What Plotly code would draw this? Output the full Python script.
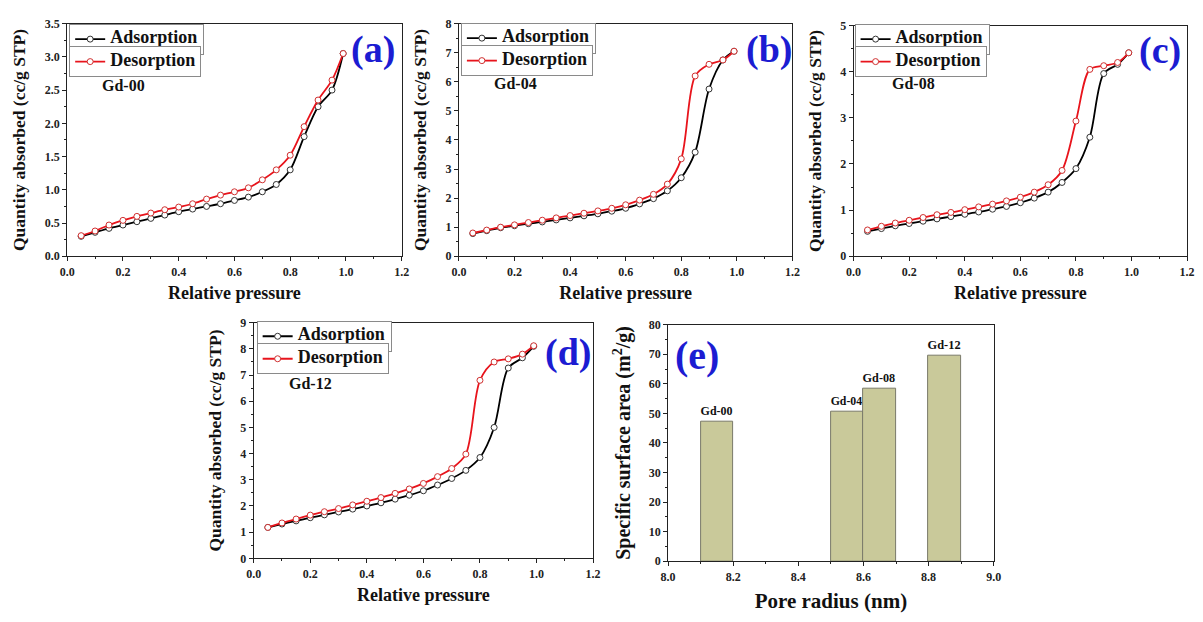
import plotly.graph_objects as go

# Relative pressure (P/P0) sampled for every isotherm
p_rel = [0.05, 0.10, 0.15, 0.20, 0.25, 0.30, 0.35, 0.40, 0.45, 0.50,
         0.55, 0.60, 0.65, 0.70, 0.75, 0.80, 0.85, 0.90, 0.95, 0.99]

# Gd-00
gd00_ads = [0.30, 0.36, 0.42, 0.47, 0.52, 0.57, 0.62, 0.67, 0.71, 0.75,
            0.79, 0.84, 0.89, 0.97, 1.08, 1.30, 1.80, 2.25, 2.50, 3.05]
gd00_des = [0.31, 0.38, 0.47, 0.54, 0.60, 0.65, 0.70, 0.74, 0.79, 0.86,
            0.92, 0.97, 1.03, 1.15, 1.30, 1.52, 1.95, 2.35, 2.65, 3.05]
# Gd-04
gd04_ads = [0.78, 0.88, 0.98, 1.05, 1.12, 1.18, 1.25, 1.32, 1.39, 1.46,
            1.55, 1.65, 1.80, 1.98, 2.25, 2.70, 3.58, 5.75, 6.75, 7.05]
gd04_des = [0.80, 0.90, 1.00, 1.08, 1.16, 1.24, 1.32, 1.40, 1.48, 1.56,
            1.65, 1.77, 1.93, 2.13, 2.48, 3.35, 6.20, 6.60, 6.75, 7.05]
# Gd-08
gd08_ads = [0.54, 0.60, 0.66, 0.71, 0.76, 0.81, 0.86, 0.91, 0.96, 1.02,
            1.08, 1.16, 1.26, 1.39, 1.60, 1.90, 2.58, 3.96, 4.16, 4.41]
gd08_des = [0.57, 0.65, 0.72, 0.78, 0.84, 0.90, 0.95, 1.01, 1.07, 1.13,
            1.20, 1.28, 1.39, 1.55, 1.86, 2.93, 4.05, 4.13, 4.20, 4.41]
# Gd-12
gd12_ads = [1.18, 1.31, 1.43, 1.55, 1.66, 1.77, 1.88, 2.00, 2.12, 2.26,
            2.41, 2.58, 2.80, 3.05, 3.36, 3.85, 5.00, 7.27, 7.66, 8.10]
gd12_des = [1.18, 1.35, 1.50, 1.65, 1.78, 1.90, 2.04, 2.18, 2.32, 2.48,
            2.65, 2.86, 3.12, 3.43, 3.98, 6.80, 7.50, 7.62, 7.80, 8.12]

# BET surface area vs. mean pore radius
samples = ["Gd-00", "Gd-04", "Gd-08", "Gd-12"]
pore_radius = [8.15, 8.55, 8.65, 8.85]
surface_area = [47.2, 50.6, 58.4, 69.6]

SERIF = "Liberation Serif"
BLUE = "#1c1cd2"

fig = go.Figure()

W, H = 1203, 622


def px_x(v):
    return v / W


def px_y(v):
    return 1 - v / H


def big(txt, size=18):
    # legend rows are sized from the legend font; the visible label is set larger
    return f'<span style="font-size:{size}px">{txt}</span>'


panels = [
    ("", (60, 399), (17, 255), 3.5, 0.5, gd00_ads, gd00_des, "Gd-00", "(a)",
     (370, 43), (62, 17), (93, 80)),
    ("2", (457, 795), (17, 255), 8, 1, gd04_ads, gd04_des, "Gd-04", "(b)",
     (771, 43), (459, 16), (491, 78)),
    ("3", (857, 1195), (19, 255), 5, 1, gd08_ads, gd08_des, "Gd-08", "(c)",
     (1168, 45), (858, 17), (894, 78)),
    ("4", (249, 593), (323, 564), 9, 1, gd12_ads, gd12_des, "Gd-12", "(d)",
     (568, 353), (252, 321), (283, 385)),
]

axis_common = dict(
    showline=True, linecolor="#222", linewidth=1, mirror=True,
    ticks="outside", ticklen=4, tickcolor="#222", showgrid=False, zeroline=False,
    tickfont=dict(family=SERIF, size=12, color="#222", weight="bold"),
)

leg_style = dict(
    xanchor="left", yanchor="top", bgcolor="white", bordercolor="#8a8a8a",
    borderwidth=1, font=dict(family=SERIF, size=10, color="#111", weight="bold"),
    itemwidth=30, tracegroupgap=0,
)

legend_idx = 1
for (suf, xd, yd, ymax, ydt, ads, des, name, lab, labpos, legpos, sampos) in panels:
    xa = "x" + suf
    ya = "y" + suf
    lg_a = "legend" if legend_idx == 1 else f"legend{legend_idx}"
    lg_d = f"legend{legend_idx + 1}"
    fig.add_trace(go.Scatter(
        x=p_rel, y=ads, name=big("Adsorption"), mode="lines+markers",
        line=dict(color="black", width=1.8, shape="spline", smoothing=0.9),
        marker=dict(symbol="circle", size=6, color="white",
                    line=dict(color="#333", width=1)),
        xaxis=xa, yaxis=ya, legend=lg_a))
    fig.add_trace(go.Scatter(
        x=p_rel, y=des, name=big("Desorption"), mode="lines+markers",
        line=dict(color="#e8141c", width=1.8, shape="spline", smoothing=0.9),
        marker=dict(symbol="circle", size=6, color="white",
                    line=dict(color="#d03030", width=1)),
        xaxis=xa, yaxis=ya, legend=lg_d))

    fig.update_layout(**{
        lg_a: dict(x=px_x(legpos[0]), y=px_y(legpos[1]), **leg_style),
        lg_d: dict(x=px_x(legpos[0]), y=px_y(legpos[1] + 23), **leg_style),
    })
    legend_idx += 2

    xkey = "xaxis" + suf
    ykey = "yaxis" + suf
    fig.update_layout(**{
        xkey: dict(domain=[px_x(xd[0]), px_x(xd[1])], anchor=ya, range=[0, 1.2],
                   dtick=0.2, tickformat=".1f", minor=dict(dtick=0.1, ticks="outside", ticklen=2),
                   title=dict(text="Relative pressure", standoff=8,
                              font=dict(family=SERIF, size=18, color="#111", weight="bold")),
                   **axis_common),
        ykey: dict(domain=[px_y(yd[1]), px_y(yd[0])], anchor=xa, range=[0, ymax],
                   dtick=ydt, tickformat=".1f" if ydt < 1 else "d",
                   minor=dict(dtick=ydt / 2, ticks="outside", ticklen=2),
                   title=dict(text="Quantity absorbed (cc/g STP)", standoff=14,
                              font=dict(family=SERIF, size=17.5, color="#111", weight="bold")),
                   **axis_common),
    })

    fig.add_annotation(x=px_x(labpos[0]), y=px_y(labpos[1]), xref="paper", yref="paper",
                       text=lab, showarrow=False, xanchor="center", yanchor="middle",
                       font=dict(family=SERIF, size=38, color=BLUE, weight="bold"))
    fig.add_annotation(x=px_x(sampos[0]), y=px_y(sampos[1]), xref="paper", yref="paper",
                       text=name, showarrow=False, xanchor="left", yanchor="middle",
                       font=dict(family=SERIF, size=16, color="#111", weight="bold"))

# (e) surface area bars
fig.add_trace(go.Bar(
    x=pore_radius, y=surface_area, width=0.1, text=samples, textposition="outside",
    textfont=dict(family=SERIF, size=13, color="#111", weight="bold"),
    marker=dict(color="#c9c99a", line=dict(color="#7a7a6a", width=1)),
    cliponaxis=False, showlegend=False, xaxis="x5", yaxis="y5"))

fig.update_layout(
    xaxis5=dict(domain=[px_x(669), px_x(999)], anchor="y5", range=[8.0, 9.0], dtick=0.2,
                tickformat=".1f", minor=dict(dtick=0.1, ticks="outside", ticklen=2),
                title=dict(text="Pore radius (nm)", standoff=10,
                           font=dict(family=SERIF, size=21, color="#111", weight="bold")),
                **axis_common),
    yaxis5=dict(domain=[px_y(567), px_y(325)], anchor="x5", range=[0, 80], dtick=10,
                minor=dict(dtick=5, ticks="outside", ticklen=2),
                title=dict(text="Specific surface area (m<sup>2</sup>/g)", standoff=12,
                           font=dict(family=SERIF, size=20, color="#111", weight="bold")),
                **axis_common),
)
fig.add_annotation(x=px_x(698), y=px_y(357), xref="paper", yref="paper", text="(e)",
                   showarrow=False, xanchor="center", yanchor="middle",
                   font=dict(family=SERIF, size=40, color=BLUE, weight="bold"))

fig.update_layout(
    width=W, height=H, margin=dict(l=0, r=0, t=0, b=0),
    paper_bgcolor="white", plot_bgcolor="white", bargap=0,
)

fig.write_html("out.html")
